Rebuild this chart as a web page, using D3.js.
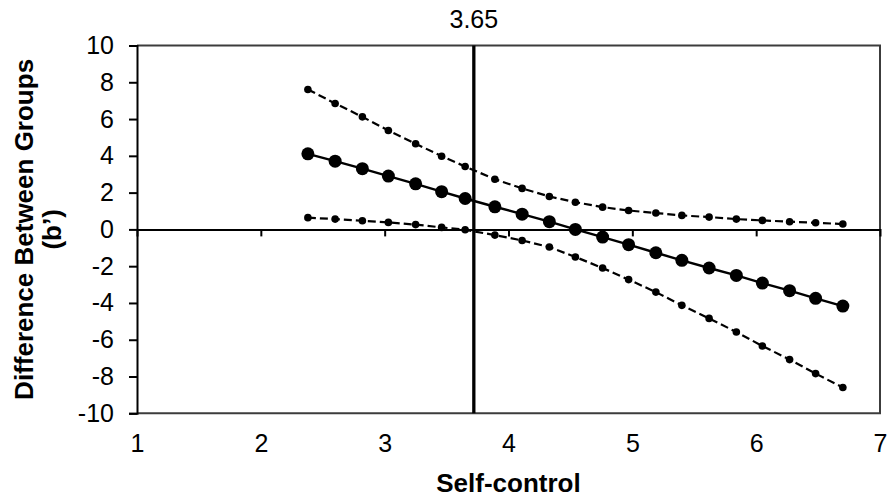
<!DOCTYPE html>
<html>
<head>
<meta charset="utf-8">
<script src="https://cdn.jsdelivr.net/npm/d3@7"></script>
<style>
  html, body { margin: 0; padding: 0; background: #fff; }
  svg { display: block; font-family: "Liberation Sans", Arial, sans-serif; }
</style>
</head>
<body>
<svg id="chart" width="888" height="497"></svg>
<script>
// ---- data ----
const selfControl = [2.38, 2.60, 2.82, 3.03, 3.25, 3.46, 3.65, 3.89, 4.11, 4.33, 4.54, 4.76, 4.97, 5.19, 5.40, 5.62, 5.84, 6.05, 6.27, 6.48, 6.70];
const estimate = [4.11, 3.71, 3.30, 2.90, 2.48, 2.05, 1.68, 1.23, 0.83, 0.42, 0.00, -0.42, -0.83, -1.27, -1.68, -2.10, -2.50, -2.92, -3.33, -3.75, -4.17];
const upperCI = [7.61, 6.85, 6.12, 5.38, 4.66, 3.98, 3.42, 2.73, 2.23, 1.79, 1.48, 1.21, 1.03, 0.89, 0.76, 0.67, 0.56, 0.49, 0.42, 0.36, 0.29];
const lowerCI = [0.64, 0.56, 0.47, 0.38, 0.26, 0.11, -0.02, -0.31, -0.60, -0.96, -1.50, -2.10, -2.73, -3.41, -4.13, -4.84, -5.58, -6.34, -7.08, -7.84, -8.60];
const xTicks = [1, 2, 3, 4, 5, 6, 7];
const yTicks = [-10, -8, -6, -4, -2, 0, 2, 4, 6, 8, 10];
const jnLineValue = 3.72;
const jnLabel = "3.65";
const xTitle = "Self-control";
const yTitle1 = "Difference Between Groups";
const yTitle2 = "(b\u2019)";

// ---- layout ----
const svg = d3.select("#chart");
const L = 137, R = 880, T = 45.5, B = 413.3;
const x = d3.scaleLinear().domain([1, 7]).range([L, R]);
const y = d3.scaleLinear().domain([-10, 10]).range([B, T]);

// border (top, right, bottom)
svg.append("path")
  .attr("d", `M${L},${T}H${R}V${B}H${L}`)
  .attr("fill", "none").attr("stroke", "#3c3c3c").attr("stroke-width", 2);

// y axis
const yAxis = d3.axisLeft(y).tickValues(yTicks).tickSize(8).tickPadding(15).tickFormat(d3.format("d"));
const gy = svg.append("g").attr("transform", `translate(${L},0)`).call(yAxis);
gy.select(".domain").attr("stroke", "#000").attr("stroke-width", 2);
gy.selectAll(".tick line").attr("stroke", "#000").attr("stroke-width", 2);
gy.selectAll(".tick text").attr("font-size", 25).attr("fill", "#000")
  .attr("font-family", "Liberation Sans, Arial, sans-serif").text(d => d < 0 ? "-" + Math.abs(d) : d);

// zero line with ticks (down)
const xAxisZero = d3.axisBottom(x).tickValues(xTicks.filter(d => d > 1 && d < 7)).tickSize(7).tickFormat("");
const gx0 = svg.append("g").attr("transform", `translate(0,${y(0)})`).call(xAxisZero);
gx0.select(".domain").attr("stroke", "#000").attr("stroke-width", 2);
gx0.selectAll(".tick line").attr("stroke", "#000").attr("stroke-width", 2);

// x tick labels below plot
const xAxisLabels = d3.axisBottom(x).tickValues(xTicks).tickSize(0).tickPadding(21).tickFormat(d3.format("d"));
const gxl = svg.append("g").attr("transform", `translate(0,${B})`).call(xAxisLabels);
gxl.select(".domain").remove();
gxl.selectAll(".tick text").attr("font-size", 25).attr("fill", "#000")
  .attr("font-family", "Liberation Sans, Arial, sans-serif");

// vertical J-N line
svg.append("line")
  .attr("x1", x(jnLineValue)).attr("x2", x(jnLineValue))
  .attr("y1", T).attr("y2", B)
  .attr("stroke", "#000").attr("stroke-width", 3.3);
svg.append("text")
  .attr("x", x(jnLineValue)).attr("y", 28)
  .attr("text-anchor", "middle").attr("font-size", 25)
  .text(jnLabel);

// series
const pts = (ys) => selfControl.map((v, i) => [v, ys[i]]);
const line = d3.line().x(d => x(d[0])).y(d => y(d[1]));

[upperCI, lowerCI].forEach(s => {
  svg.append("path").datum(pts(s))
    .attr("d", line).attr("fill", "none")
    .attr("stroke", "#000").attr("stroke-width", 2.2).attr("stroke-dasharray", "8,4");
  svg.append("g").selectAll("circle").data(pts(s)).join("circle")
    .attr("cx", d => x(d[0])).attr("cy", d => y(d[1])).attr("r", 3.8).attr("fill", "#000");
});
svg.append("path").datum(pts(estimate))
  .attr("d", line).attr("fill", "none")
  .attr("stroke", "#000").attr("stroke-width", 2.4);
svg.append("g").selectAll("circle").data(pts(estimate)).join("circle")
  .attr("cx", d => x(d[0])).attr("cy", d => y(d[1])).attr("r", 6.5).attr("fill", "#000");

// titles
svg.append("text")
  .attr("x", (L + R) / 2).attr("y", 492)
  .attr("text-anchor", "middle").attr("font-size", 26).attr("font-weight", "bold")
  .text(xTitle);
const yc = (T + B) / 2;
svg.append("text")
  .attr("transform", `translate(33,${yc}) rotate(-90)`)
  .attr("text-anchor", "middle").attr("font-size", 26).attr("font-weight", "bold")
  .text(yTitle1);
svg.append("text")
  .attr("transform", `translate(61,${yc}) rotate(-90)`)
  .attr("text-anchor", "middle").attr("font-size", 26).attr("font-weight", "bold")
  .text(yTitle2);
</script>
</body>
</html>
